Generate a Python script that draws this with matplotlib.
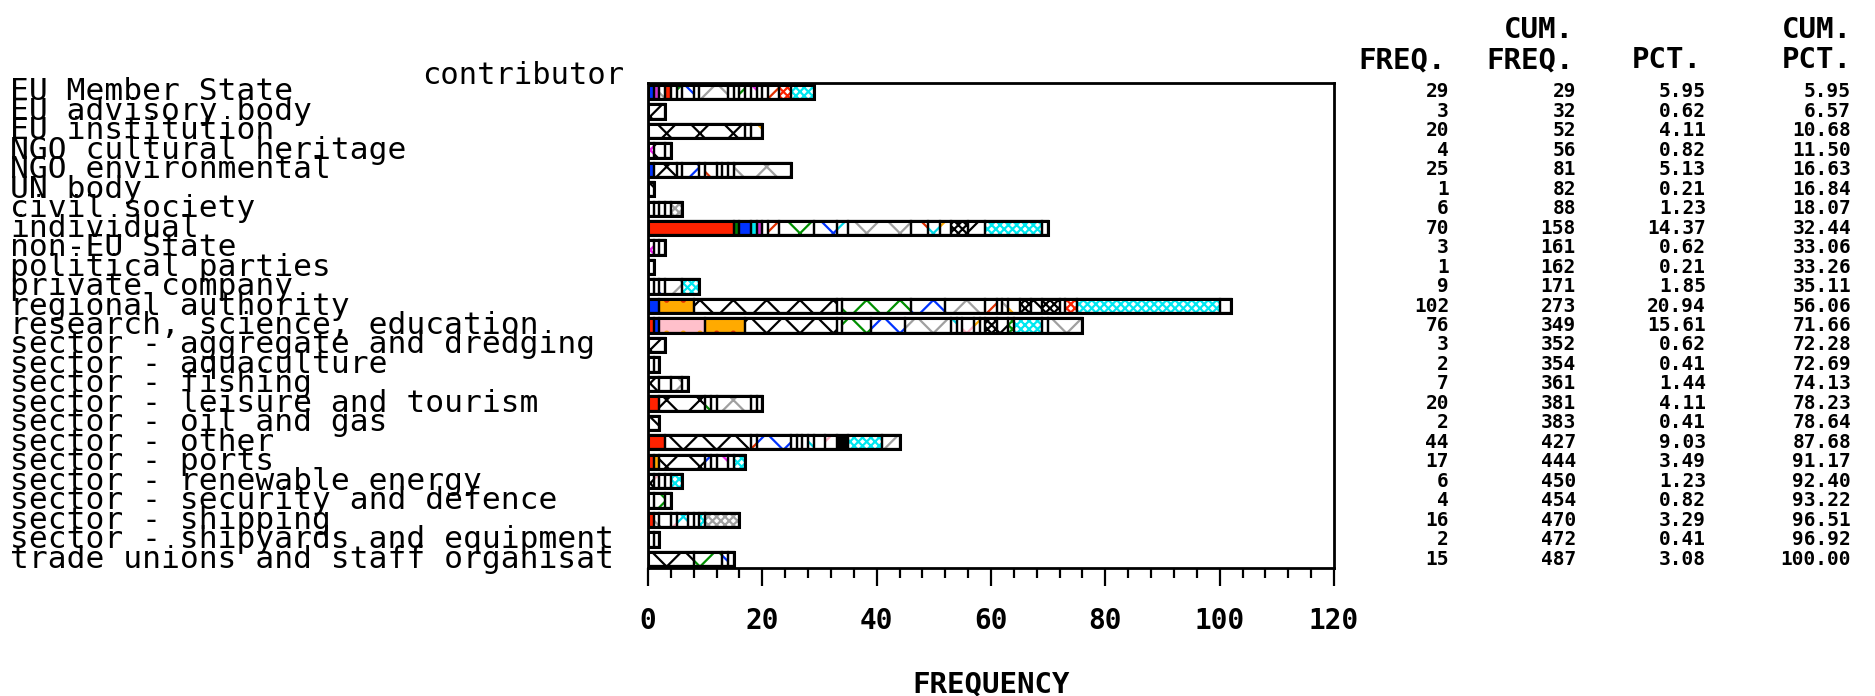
import matplotlib
matplotlib.use("Agg")
import matplotlib.pyplot as plt
from matplotlib.transforms import blended_transform_factory

# Data

categories = [
    "EU Member State", "EU advisory body", "EU institution",
    "NGO cultural heritage", "NGO environmental", "UN body",
    "civil society", "individual", "non-EU State", "political parties",
    "private company", "regional authority", "research, science, education",
    "sector - aggregate and dredging", "sector - aquaculture",
    "sector - fishing", "sector - leisure and tourism",
    "sector - oil and gas", "sector - other", "sector - ports",
    "sector - renewable energy", "sector - security and defence",
    "sector - shipping", "sector - shipyards and equipment",
    "trade unions and staff organisat",
]

freq = [29, 3, 20, 4, 25, 1, 6, 70, 3, 1, 9, 102, 76, 3, 2, 7, 20, 2, 44,
        17, 6, 4, 16, 2, 15]
cum_freq = ["29", "32", "52", "56", "81", "82", "88", "158", "161", "162",
            "171", "273", "349", "352", "354", "361", "381", "383", "427",
            "444", "450", "454", "470", "472", "487"]
pct = ["5.95", "0.62", "4.11", "0.82", "5.13", "0.21", "1.23", "14.37",
       "0.62", "0.21", "1.85", "20.94", "15.61", "0.62", "0.41", "1.44",
       "4.11", "0.41", "9.03", "3.49", "1.23", "0.82", "3.29", "0.41", "3.08"]
cum_pct = ["5.95", "6.57", "10.68", "11.50", "16.63", "16.84", "18.07",
           "32.44", "33.06", "33.26", "35.11", "56.06", "71.66", "72.28",
           "72.69", "74.13", "78.23", "78.64", "87.68", "91.17", "92.40",
           "93.22", "96.51", "96.92", "100.00"]

# sub-groups inside each bar: (count, pattern)
segments = [
    [(1, "B"), (1, "M"), (1, "xy"), (1, "R"), (1, "W"), (1, "xg"), (2, "xb"),
     (1, "W"), (5, "xy"), (1, "W"), (1, "W"), (1, "xg"), (1, "W"), (1, "xm"),
     (1, "W"), (1, "W"), (2, "xr"), (2, "cr"), (4, "cc")],
    [(3, "xk")],
    [(17, "xk"), (1, "W"), (2, "xo")],
    [(1, "xm"), (2, "xk"), (1, "W")],
    [(1, "B"), (4, "xk"), (1, "xr"), (3, "xb"), (1, "W"), (2, "xr"), (1, "xo"),
     (1, "W"), (1, "W"), (10, "xy")],
    [(1, "xk")],
    [(1, "W"), (1, "W"), (1, "W"), (1, "W"), (2, "cy")],
    [(15, "R"), (1, "G"), (2, "B"), (1, "C"), (1, "M"), (1, "W"), (2, "xr"),
     (6, "xg"), (4, "xb"), (2, "xc"), (11, "xy"), (3, "xr"), (2, "xc"),
     (2, "xo"), (3, "ck"), (3, "xk"), (10, "cc"), (1, "W")],
    [(1, "xm"), (1, "W"), (1, "W")],
    [(1, "xb")],
    [(1, "W"), (1, "W"), (1, "xb"), (3, "xy"), (3, "cc")],
    [(2, "B"), (6, "O"), (25, "xk"), (1, "W"), (12, "xg"), (6, "xb"),
     (7, "xy"), (2, "xr"), (1, "W"), (1, "xy"), (2, "xo"), (2, "ck"),
     (2, "xk"), (3, "ck"), (1, "W"), (2, "cr"), (25, "cc"), (2, "W")],
    [(1, "R"), (1, "B"), (8, "P"), (7, "O"), (16, "xk"), (1, "W"), (5, "xg"),
     (6, "xb"), (8, "xy"), (1, "xc"), (1, "W"), (2, "xp"), (1, "xo"),
     (1, "xr"), (2, "ck"), (2, "xk"), (1, "cg"), (5, "cc"), (1, "W"),
     (6, "xy")],
    [(3, "xk")],
    [(1, "W"), (1, "W")],
    [(2, "xk"), (2, "xg"), (2, "xy"), (1, "W")],
    [(2, "R"), (8, "xk"), (1, "xg"), (1, "W"), (6, "xy"), (1, "xr"), (1, "W")],
    [(2, "xk")],
    [(3, "R"), (15, "xk"), (1, "xr"), (6, "xb"), (1, "W"), (1, "xy"),
     (1, "W"), (1, "xc"), (2, "W"), (2, "xp"), (2, "K"), (6, "cc"),
     (3, "xy")],
    [(1, "R"), (1, "O"), (8, "xk"), (1, "xb"), (1, "W"), (2, "xm"), (1, "W"),
     (2, "cc")],
    [(1, "xk"), (1, "xp"), (1, "W"), (1, "W"), (2, "cc")],
    [(1, "xk"), (2, "xg"), (1, "W")],
    [(1, "R"), (1, "xy"), (2, "xk"), (1, "xp"), (2, "xc"), (1, "W"),
     (1, "W"), (1, "cc"), (6, "cy")],
    [(1, "W"), (1, "W")],
    [(8, "xk"), (5, "xg"), (1, "xb"), (1, "W")],
]

# pattern -> (face colour, hatch, hatch colour)
patterns = {
    "R": ("#ff2200", None, "#ff2200"),
    "B": ("#0033ff", None, "#0033ff"),
    "C": ("#00e8f0", None, "#00e8f0"),
    "G": ("#008000", None, "#008000"),
    "M": ("#cc33cc", None, "#cc33cc"),
    "K": ("#000000", None, "#000000"),
    "W": ("white", None, "white"),
    "O": ("#ffaa00", ".", "#e03000"),
    "P": ("#ffc0cb", ".", "#ffaa00"),
    "xk": ("white", "x", "#000000"),
    "xg": ("white", "x", "#009000"),
    "xb": ("white", "x", "#0033ff"),
    "xr": ("white", "x", "#e03000"),
    "xo": ("white", "x", "#ffaa00"),
    "xc": ("white", "x", "#00d8e8"),
    "xm": ("white", "x", "#ee22ee"),
    "xp": ("white", "x", "#ffb0c0"),
    "xy": ("white", "x", "#a0a0a0"),
    "ck": ("white", "xxxx", "#000000"),
    "cc": ("white", "xxxx", "#00e8f0"),
    "cr": ("white", "xxxx", "#ff2200"),
    "cg": ("white", "xxxx", "#009000"),
    "cy": ("white", "xxxx", "#a0a0a0"),
}

plt.rcParams["hatch.linewidth"] = 1.6

fig = plt.figure(figsize=(18.75, 6.96), dpi=100)
ax = fig.add_axes([648 / 1875, 1 - 568 / 696, (1334 - 648) / 1875,
                   (568 - 83) / 696])

ypos = list(range(len(categories)))
bar_h = 0.74

for y, segs in zip(ypos, segments):
    left = 0
    for count, key in segs:
        face, hatch, hcol = patterns[key]
        ax.barh(y, count, left=left, height=bar_h, color=face,
                edgecolor=hcol, hatch=hatch, linewidth=0, zorder=2)
        ax.barh(y, count, left=left, height=bar_h, fill=False,
                edgecolor="black", linewidth=1.6, zorder=3)
        left += count

# outline of the whole bar
ax.barh(ypos, freq, height=bar_h, fill=False, edgecolor="black",
        linewidth=2.2, zorder=4)

ax.set_xlim(0, 120)
ax.set_ylim(len(categories) - 0.54, -0.46)
ax.set_yticks([])
ax.set_xticks(range(0, 121, 20))
ax.set_xticks(range(0, 121, 4), minor=True)
ax.tick_params(axis="x", which="major", direction="out", length=13,
               width=1.6, pad=15)
ax.tick_params(axis="x", which="minor", direction="out", length=7,
               width=1.6)
for lab in ax.get_xticklabels():
    lab.set_fontfamily("DejaVu Sans Mono")
    lab.set_fontweight("bold")
    lab.set_fontsize(20)
for sp in ax.spines.values():
    sp.set_linewidth(2)

# category labels on the far left
tr = blended_transform_factory(fig.transFigure, ax.transData)
for y, name in zip(ypos, categories):
    ax.text(10 / 1875, y, name, transform=tr, ha="left", va="center",
            fontsize=22.5, family="DejaVu Sans Mono", clip_on=False)

fig.text(624 / 1875, 1 - 75 / 696, "contributor", ha="right", va="center",
         fontsize=22, family="DejaVu Sans Mono")

fig.text(991 / 1875, 1 - 684 / 696, "FREQUENCY", ha="center", va="center",
         fontsize=21, family="DejaVu Sans Mono", fontweight="bold")

# frequency table on the right
head_kw = dict(ha="right", va="center", fontsize=21,
               family="DejaVu Sans Mono", fontweight="bold")
fig.text(1446 / 1875, 1 - 60 / 696, "FREQ.", **head_kw)
fig.text(1574 / 1875, 1 - 30 / 696, "CUM.", **head_kw)
fig.text(1574 / 1875, 1 - 60 / 696, "FREQ.", **head_kw)
fig.text(1702 / 1875, 1 - 60 / 696, "PCT.", **head_kw)
fig.text(1852 / 1875, 1 - 30 / 696, "CUM.", **head_kw)
fig.text(1852 / 1875, 1 - 60 / 696, "PCT.", **head_kw)

cols = [(1449, [str(v) for v in freq]), (1576, cum_freq), (1706, pct),
        (1851, cum_pct)]
for xpx, vals in cols:
    for y, v in zip(ypos, vals):
        ax.text(xpx / 1875, y, v, transform=tr, ha="right", va="center",
                fontsize=14, family="DejaVu Sans Mono", fontweight="bold",
                clip_on=False)

fig.savefig("out.png", dpi=100)
